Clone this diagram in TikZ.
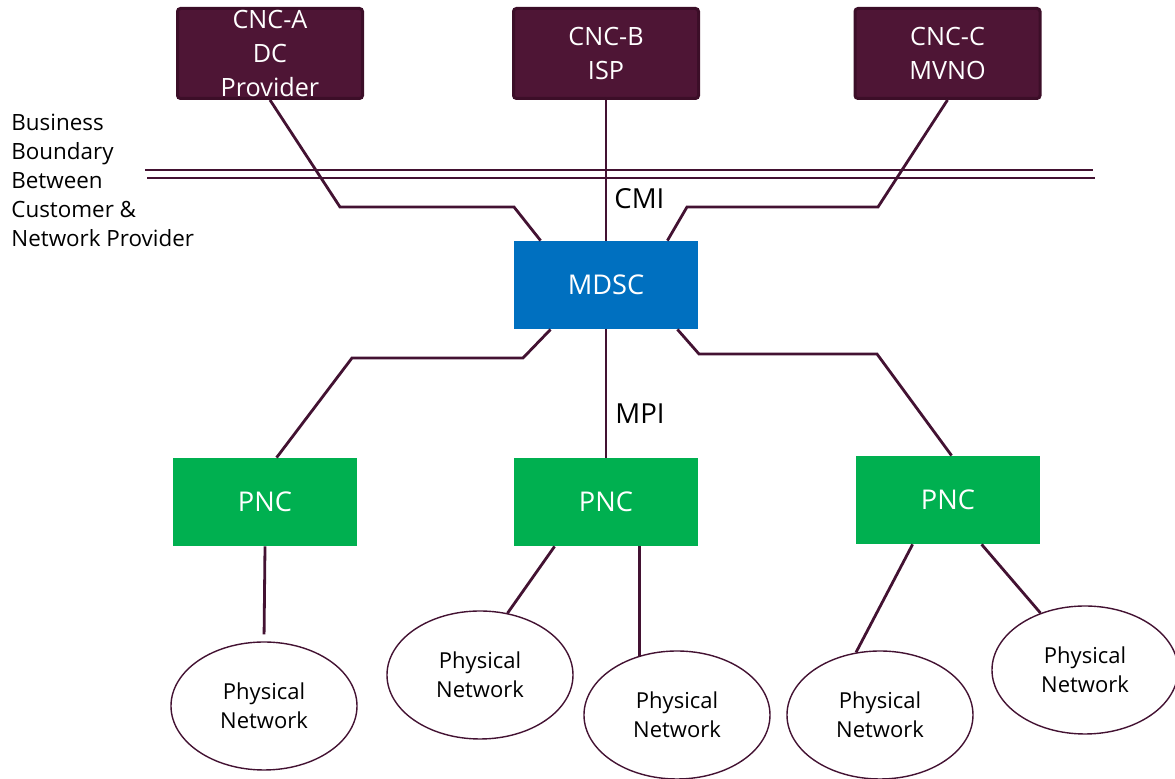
\documentclass[tikz,border=0pt]{standalone}
\usepackage{fontspec}
\setmainfont{Open Sans}
\usetikzlibrary{shapes.geometric, calc}

\definecolor{cncfill}{HTML}{4E1535}
\definecolor{cncline}{HTML}{3C0E28}
\definecolor{wirecol}{HTML}{431232}
\definecolor{mdscfill}{HTML}{0070C0}
\definecolor{pncfill}{HTML}{00B050}

\begin{document}
\begin{tikzpicture}[x=0.5pt, y=-0.5pt,
    cnc/.style={draw=cncline, line width=1.5pt, fill=cncfill, rounded corners=1.5pt, minimum width=92.5pt, minimum height=45pt, inner sep=0pt, text=white, align=center, font=\fontsize{12.6}{16.8}\selectfont},
    ctrl/.style={minimum width=92pt, minimum height=44pt, inner sep=0pt, text=white, font=\fontsize{13.6}{15}\selectfont},
    net/.style={ellipse, draw=wirecol, line width=0.7pt, minimum width=93pt, minimum height=64pt, inner sep=0pt, align=center, font=\fontsize{11}{14.5}\selectfont},
    wire/.style={draw=wirecol, line width=1.4pt}]
    \useasboundingbox (0,0) rectangle (1175,779);

    % customer controllers
    \node [cnc] (ca) at (270,53.5) {CNC-A\\DC\\Provider};
    \node [cnc] (cb) at (606,53.5) {CNC-B\\ISP};
    \node [cnc] (cc) at (947.5,53.5) {CNC-C\\MVNO};

    % business boundary
    \node [anchor=west, align=left, inner sep=0pt, font=\fontsize{11.2}{14.5}\selectfont] (bnd) at (11,180)
        {Business\\Boundary\\Between\\Customer \&\\Network Provider};
    \draw [wire, line width=1.2pt] (145,170) -- (1093,170);
    \draw [wire, line width=1.2pt] (147,178) -- (1095,178);

    % controllers
    \node [ctrl, fill=mdscfill] (md) at (606,285) {MDSC};
    \node [ctrl, fill=pncfill] (pa) at (265,502) {PNC};
    \node [ctrl, fill=pncfill] (pb) at (606,502) {PNC};
    \node [ctrl, fill=pncfill] (pc) at (948,500) {PNC};

    % physical networks
    \node [net] (na) at (264,706) {Physical\\Network};
    \node [net] (nb) at (480,675) {Physical\\Network};
    \node [net] (nc) at (677,715) {Physical\\Network};
    \node [net] (nd) at (880,715) {Physical\\Network};
    \node [net] (ne) at (1085,670) {Physical\\Network};

    \node [anchor=west, inner sep=0pt, font=\fontsize{13.8}{15}\selectfont] (cmi) at (614,199) {CMI};
    \node [anchor=west, inner sep=0pt, font=\fontsize{13.8}{15}\selectfont] (mpi) at (615,414) {MPI};

    % CMI links
    \draw [wire] (ca.south) -- (340,207) -- (514,207) -- ($(md.north west)+(27,0)$);
    \draw [wire] (cb.south) -- (md.north);
    \draw [wire] (cc.south) -- (878,207) -- (687,207) -- ($(md.north east)+(-31,0)$);

    % MPI links
    \draw [wire] ($(md.south west)+(37,0)$) -- (523,358) -- (352,358) -- ($(pa.north west)+(104,0)$);
    \draw [wire] (md.south) -- (pb.north);
    \draw [wire] ($(md.south east)+(-21,0)$) -- (699,354) -- (877,354) -- ($(pc.north west)+(96,0)$);

    % south links
    \draw [wire, shorten >=3.5pt] (pa.south) -- (na.north);
    \draw [wire] ($(pb.south west)+(41,0)$) -- (nb.66);
    \draw [wire] ($(pb.south west)+(126,0)$) coordinate (s) -- (s |- nc.122);
    \draw [wire] ($(pc.south west)+(57,0)$) -- (nd.111);
    \draw [wire] ($(pc.south west)+(126,0)$) -- (ne.128);
\end{tikzpicture}
\end{document}
